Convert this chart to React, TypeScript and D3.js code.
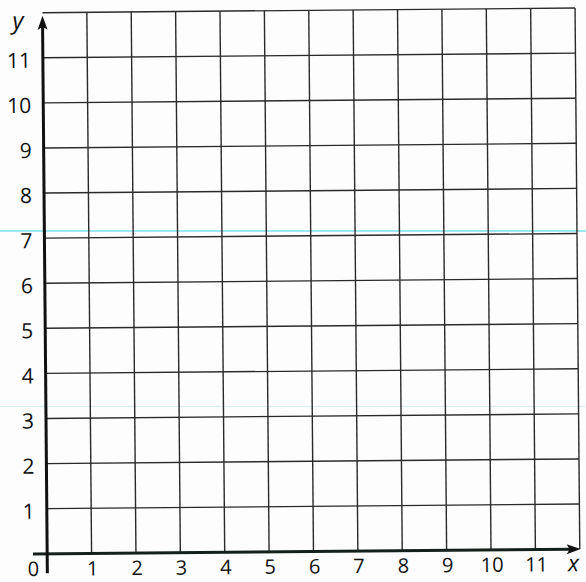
import React from 'react';
import * as d3 from 'd3';

// Blank first-quadrant grid, 0..12 on both axes
const xTicks = [1, 2, 3, 4, 5, 6, 7, 8, 9, 10, 11];
const yTicks = [1, 2, 3, 4, 5, 6, 7, 8, 9, 10, 11];
const gridValues = [1, 2, 3, 4, 5, 6, 7, 8, 9, 10, 11, 12];
const domainMax = 12;
// scanner streaks in the source image (y values)
const scanStreaks = [7.11, 3.22];

const W = 586;
const H = 582;

export default function App() {
  const x = d3.scaleLinear().domain([0, domainMax]).range([44.9, 577.5]);
  const y = d3.scaleLinear().domain([0, domainMax]).range([551.6, 10.5]);

  const font = "'Open Sans', 'Noto Sans', sans-serif";
  const ink = '#2a2a2a';

  const xArrowTip = x(12.02);
  const yArrowTip = y(11.93);

  return (
    <svg
      width={W}
      height={H}
      style={{ position: 'absolute', left: 0, top: 0, background: '#fff' }}
    >
      <rect width={W} height={H} fill="#fdfdfd" />

      {/* scan streaks, not part of the printed grid */}
      {scanStreaks.map((v, i) => (
        <line
          key={'s' + i}
          x1={0}
          x2={W}
          y1={y(v)}
          y2={y(v)}
          stroke={i === 0 ? '#3fd2e0' : '#cdeef4'}
          strokeWidth={1}
        />
      ))}

      <g transform={`rotate(-0.5, ${W / 2}, ${H / 2})`}>
        {/* grid */}
        {gridValues.map(v => (
          <line
            key={'v' + v}
            x1={x(v)}
            x2={x(v)}
            y1={y(0)}
            y2={y(domainMax)}
            stroke={ink}
            strokeWidth={1.4}
          />
        ))}
        {gridValues.map(v => (
          <line
            key={'h' + v}
            x1={x(0)}
            x2={x(domainMax)}
            y1={y(v)}
            y2={y(v)}
            stroke={ink}
            strokeWidth={1.4}
          />
        ))}

        {/* axes */}
        <line
          x1={x(-0.32)}
          x2={xArrowTip - 8}
          y1={y(0)}
          y2={y(0)}
          stroke="#16201a"
          strokeWidth={3}
        />
        <path
          d={`M${xArrowTip},${y(0)} L${xArrowTip - 14},${y(0) - 5} L${xArrowTip - 11},${y(0)} L${xArrowTip - 14},${y(0) + 5} Z`}
          fill="#111"
        />
        <line
          x1={x(0)}
          x2={x(0)}
          y1={y(-0.43)}
          y2={yArrowTip + 8}
          stroke="#111"
          strokeWidth={3}
        />
        <path
          d={`M${x(0)},${yArrowTip} L${x(0) - 5},${yArrowTip + 14} L${x(0)},${yArrowTip + 11} L${x(0) + 5},${yArrowTip + 14} Z`}
          fill="#111"
        />

        {/* tick labels */}
        {xTicks.map(v => (
          <text
            key={'xl' + v}
            x={x(v) + 1}
            y={y(0) + 22}
            textAnchor="middle"
            fontFamily={font}
            fontSize={20}
            fill="#111"
          >
            {v}
          </text>
        ))}
        {yTicks.map(v => (
          <text
            key={'yl' + v}
            x={x(0) - 12}
            y={y(v)}
            dy="0.47em"
            textAnchor="end"
            fontFamily={font}
            fontSize={21}
            fill="#111"
          >
            {v}
          </text>
        ))}
        <text
          x={x(0) - 14}
          y={y(0) + 22}
          textAnchor="middle"
          fontFamily={font}
          fontSize={20}
          fill="#111"
        >
          0
        </text>

        {/* axis names */}
        <text
          x={x(0) - 30}
          y={y(domainMax) + 16}
          fontFamily={font}
          fontStyle="italic"
          fontSize={24}
          fill="#111"
        >
          y
        </text>
        <text
          x={x(domainMax) - 12}
          y={y(0) + 22}
          fontFamily={font}
          fontStyle="italic"
          fontSize={23}
          fill="#111"
        >
          x
        </text>
      </g>
    </svg>
  );
}
